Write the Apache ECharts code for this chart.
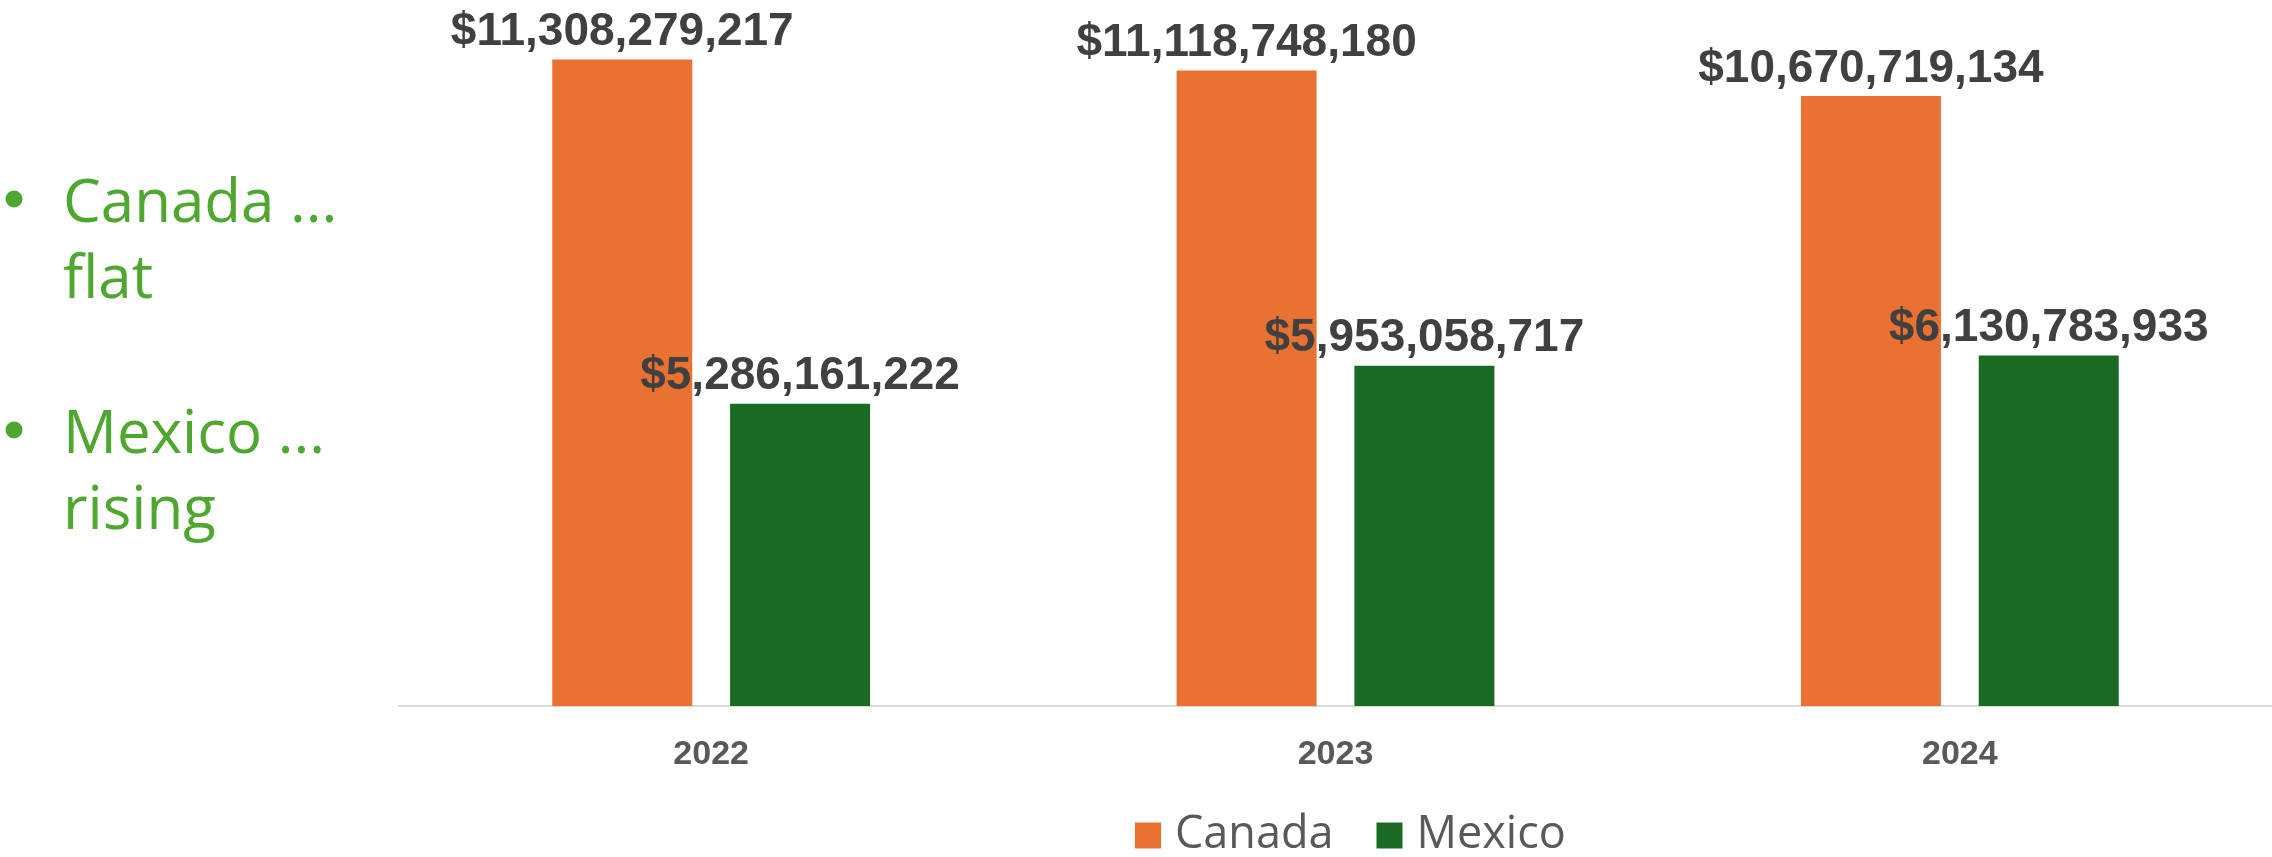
<!DOCTYPE html>
<html>
<head>
<meta charset="utf-8">
<script src="https://cdn.jsdelivr.net/npm/echarts@6/dist/echarts.min.js"></script>
<style>
html,body{margin:0;padding:0;background:#fff;}
#chart{width:2272px;height:857px;}
</style>
</head>
<body>
<div id="chart"></div>
<script>
const categories = ['2022', '2023', '2024'];
const canadaValues = [11308279217, 11118748180, 10670719134];
const mexicoValues = [5286161222, 5953058717, 6130783933];
const seriesNames = ['Canada', 'Mexico'];
const bulletLines = [['Canada ...', 'flat'], ['Mexico ...', 'rising']];

const fmt = v => '$' + v.toLocaleString('en-US');
const chart = echarts.init(document.getElementById('chart'));
const labelCfg = {
  show: true, position: 'top', distance: 4,
  formatter: p => fmt(p.value),
  fontFamily: 'Liberation Sans', fontWeight: 'bold', fontSize: 46, color: '#404040'
};
const green = '#4EA72E';
const bulletFont = '60px "Open Sans"';
const graphics = [];
const blockTops = [178, 409];
bulletLines.forEach((lines, i) => {
  const capTop = blockTops[i];
  graphics.push({
    type: 'circle', x: 14, y: capTop + 21, shape: {cx: 0, cy: 0, r: 8.5}, style: {fill: green}
  });
  lines.forEach((t, j) => {
    graphics.push({
      type: 'text', x: 63, y: capTop - 3 + j * 76,
      style: {text: t, font: bulletFont, fill: green, verticalAlign: 'top'}
    });
  });
});

chart.setOption({
  animation: false,
  backgroundColor: '#ffffff',
  grid: {left: 399, right: 0, top: 20, bottom: 151, containLabel: false},
  legend: {
    data: seriesNames, top: 808, left: 1130,
    itemWidth: 26, itemHeight: 26, itemGap: 43, icon: 'rect',
    textStyle: {fontFamily: 'Open Sans', fontSize: 45, color: '#595959', padding: [0, 0, 0, 9]}
  },
  xAxis: {
    type: 'category', data: categories,
    axisLine: {lineStyle: {color: '#D9D9D9', width: 2}},
    axisTick: {show: false},
    axisLabel: {fontFamily: 'Liberation Sans', fontWeight: 'bold', fontSize: 34, color: '#595959', margin: 32}
  },
  yAxis: {type: 'value', min: 0, max: 12e9, show: false, splitLine: {show: false}},
  series: [
    {name: seriesNames[0], type: 'bar', data: canadaValues, barWidth: 140, barGap: '27%',
     itemStyle: {color: '#E97132'}, label: labelCfg},
    {name: seriesNames[1], type: 'bar', data: mexicoValues, barWidth: 140, barGap: '27%',
     itemStyle: {color: '#196B24'}, label: labelCfg}
  ],
  graphic: graphics
});
</script>
</body>
</html>
